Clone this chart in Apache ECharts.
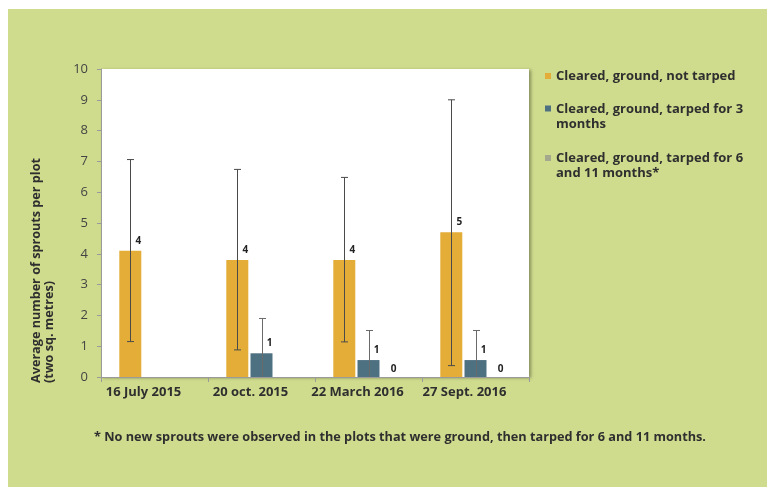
<!DOCTYPE html>
<html><head><meta charset="utf-8">
<script src="https://cdn.jsdelivr.net/npm/echarts@6/dist/echarts.min.js"></script>
<style>html,body{margin:0;padding:0;background:#fff}#c{width:767px;height:487px}</style>
</head><body><div id="c"></div>
<script>
var categories = ['16 July 2015', '20 oct. 2015', '22 March 2016', '27 Sept. 2016'];
var seriesNames = ['Cleared, ground, not tarped', 'Cleared, ground, tarped for 3 months', 'Cleared, ground, tarped for 6 and 11 months*'];
var notTarped = [4.1, 3.8, 3.8, 4.7];
var tarped3 = [null, 0.77, 0.55, 0.55];
var tarped6and11 = [null, null, 0, 0];
var notTarpedLow = [1.15, 0.88, 1.14, 0.37];
var notTarpedHigh = [7.06, 6.74, 6.48, 9.0];
var tarped3Low = [null, 0, 0, 0];
var tarped3High = [null, 1.9, 1.51, 1.51];
var yTicks = [0, 1, 2, 3, 4, 5, 6, 7, 8, 9, 10];
var footnote = '* No new sprouts were observed in the plots that were ground, then tarped for 6 and 11 months.';
var yTitle1 = 'Average number of sprouts per plot';
var yTitle2 = '(two sq. metres)';

var FONT = 'Open Sans';
var BAR_W = 22, BAR_STEP = 24.2;
var colors = ['#E3AD37', '#4E7182', '#A4A88D'];

function textWidth(t, font) {
  var c = document.createElement('canvas').getContext('2d');
  c.font = font; return c.measureText(t).width;
}
var footScale = 612 / textWidth(footnote, 'bold 12px "Open Sans"');
var titleScale = 225 / textWidth(yTitle1, 'bold 12px "Open Sans"');

function errData(lo, hi) {
  var out = [];
  for (var i = 0; i < lo.length; i++) if (lo[i] != null && hi[i] != null) out.push([i, lo[i], hi[i]]);
  return out;
}
function errRender(off, col) {
  return function (params, api) {
    var x = api.value(0), lo = api.value(1), hi = api.value(2);
    var pH = api.coord([x, hi]), pL = api.coord([x, lo]);
    var cx = Math.round(pH[0] + off) + 0.5;
    var st = { stroke: col, lineWidth: 1 };
    var ch = [
      { type: 'line', shape: { x1: cx, y1: pH[1], x2: cx, y2: pL[1] }, style: st },
      { type: 'line', shape: { x1: cx - 3.5, y1: pH[1], x2: cx + 3.5, y2: pH[1] }, style: st }
    ];
    if (lo > 0) ch.push({ type: 'line', shape: { x1: cx - 3.5, y1: pL[1], x2: cx + 3.5, y2: pL[1] }, style: st });
    return { type: 'group', children: ch };
  };
}
var wrapped = {};
wrapped[seriesNames[0]] = 'Cleared, ground, not tarped';
wrapped[seriesNames[1]] = 'Cleared, ground, tarped for 3\nmonths';
wrapped[seriesNames[2]] = 'Cleared, ground, tarped for 6\nand 11 months*';
var legTxt = { fontFamily: FONT, fontWeight: 'bold', fontSize: 13, color: '#2f2f2f', lineHeight: 15 };
var tallIcon = 'path://M0,0H6V6H0Z M0,22';
function legend(name, top, icon, h) {
  return { left: 545, top: top, padding: 0, orient: 'vertical', data: [name], icon: icon, itemWidth: 6, itemHeight: h, itemGap: 0, textStyle: legTxt, formatter: function (n) { return wrapped[n]; } };
}

var chart = echarts.init(document.getElementById('c'), null, { renderer: 'canvas' });
var labelStyle = { show: true, position: 'top', fontFamily: FONT, fontWeight: 'bold', fontSize: 10, color: '#222', formatter: function (p) { return Math.round(p.value); } };
chart.setOption({
  backgroundColor: '#fff',
  animation: false,
  graphic: [
    { type: 'rect', z: -100, shape: { x: 8, y: 9, width: 759, height: 478 }, style: { fill: '#CFDC8D' } },
    { type: 'text', x: 43.5, y: 383, rotation: Math.PI / 2, scaleX: titleScale, style: { text: yTitle1 + '\n' + yTitle2, fontFamily: FONT, fontWeight: 'bold', fontSize: 12, lineHeight: 13, fill: '#2f2f2f', align: 'left', verticalAlign: 'middle' } },
    { type: 'text', x: 94, y: 438, scaleX: footScale, style: { text: footnote, fontFamily: FONT, fontWeight: 'bold', fontSize: 12, fill: '#2f2f2f', align: 'left', verticalAlign: 'middle' } }
  ],
  legend: [
    legend(seriesNames[0], 68.5, 'rect', 6),
    legend(seriesNames[1], 101.5, tallIcon, 22),
    legend(seriesNames[2], 151, tallIcon, 22)
  ],
  grid: { left: 101, right: 238, top: 69, bottom: 110, show: true, backgroundColor: '#fff', borderWidth: 0, shadowColor: 'rgba(0,0,0,0.35)', shadowBlur: 3, shadowOffsetX: 2, shadowOffsetY: 1 },
  xAxis: {
    type: 'category', data: categories,
    axisLine: { lineStyle: { color: '#9a9a9a', width: 1 } },
    axisTick: { show: true, length: 5, lineStyle: { color: '#9a9a9a' } },
    axisLabel: { interval: 0, margin: 9, fontFamily: FONT, fontWeight: 'bold', fontSize: 13, color: '#2f2f2f', padding: [0, 22, 0, 0] }
  },
  yAxis: {
    type: 'value', min: 0, max: 10, interval: 1,
    axisLine: { show: true, lineStyle: { color: '#9a9a9a' } },
    axisTick: { show: true, length: 4, lineStyle: { color: '#9a9a9a' } },
    splitLine: { show: false },
    axisLabel: { margin: 13, fontFamily: FONT, fontSize: 13, color: '#444', formatter: function (v) { return yTicks.indexOf(v) >= 0 ? String(v) : ''; } }
  },
  series: [
    { name: seriesNames[0], type: 'bar', data: notTarped, barWidth: BAR_W, barGap: '10%', itemStyle: { color: colors[0] }, label: Object.assign({}, labelStyle, { offset: [8, 0] }) },
    { name: seriesNames[1], type: 'bar', data: tarped3, barWidth: BAR_W, barGap: '10%', itemStyle: { color: colors[1] }, label: Object.assign({}, labelStyle, { offset: [8, 0] }) },
    { name: seriesNames[2], type: 'bar', data: tarped6and11, barWidth: BAR_W, barGap: '10%', itemStyle: { color: colors[2] }, label: Object.assign({}, labelStyle, { offset: [1, 2] }) },
    { type: 'custom', z: 5, data: errData(notTarpedLow, notTarpedHigh), encode: { x: 0, y: [1, 2] }, renderItem: errRender(-BAR_STEP, '#4a4a4a'), silent: true },
    { type: 'custom', z: 5, data: errData(tarped3Low, tarped3High), encode: { x: 0, y: [1, 2] }, renderItem: errRender(0, '#6a6a6a'), silent: true }
  ]
});
</script></body></html>
